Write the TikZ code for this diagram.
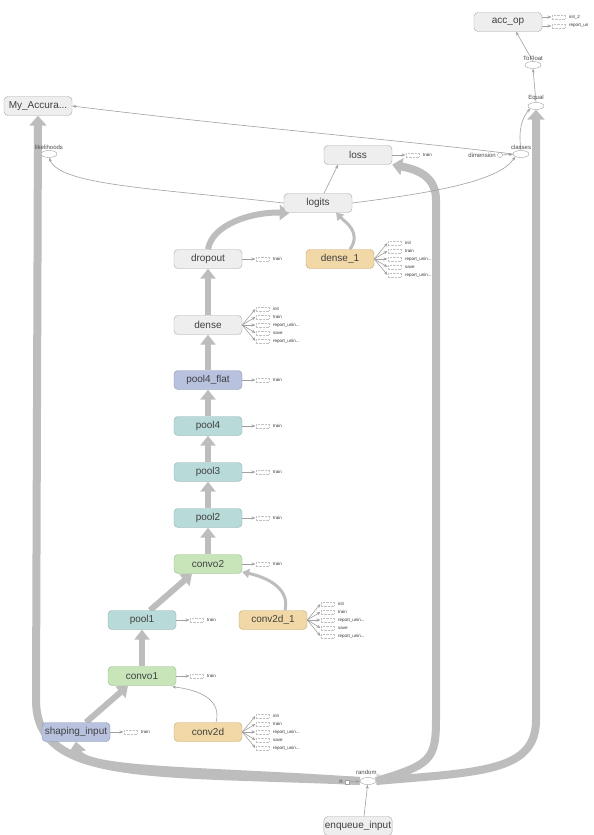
\documentclass[tikz,border=0pt]{standalone}
\usepackage{fontspec}
\setmainfont{Liberation Sans}
\usetikzlibrary{arrows.meta,calc,shapes.geometric,positioning,backgrounds}
\definecolor{opfill}{HTML}{EEEEEE}
\definecolor{opline}{HTML}{A8A8A8}
\definecolor{poolfill}{HTML}{B8DAD8}
\definecolor{poolline}{HTML}{8DB0AE}
\definecolor{convfill}{HTML}{C8E5BA}
\definecolor{convline}{HTML}{98BB88}
\definecolor{densefill}{HTML}{F1D8A6}
\definecolor{denseline}{HTML}{C6A876}
\definecolor{shapefill}{HTML}{B8C2DF}
\definecolor{shapeline}{HTML}{8C97B8}
\definecolor{flow}{HTML}{BDBDBD}
\definecolor{thin}{HTML}{A0A0A0}
\newcommand{\repunin}{report\_unin...}
\begin{document}
\begin{tikzpicture}[x=1pt,y=-1pt,
    op/.style={draw=opline,fill=opfill,rounded corners=4pt,minimum width=68pt,minimum height=19pt,
      inner sep=1pt,font=\fontsize{10}{12}\selectfont,text=black!75},
    pool/.style={op,fill=poolfill,draw=poolline},
    conv/.style={op,fill=convfill,draw=convline},
    densecol/.style={op,fill=densefill,draw=denseline},
    shapecol/.style={op,fill=shapefill,draw=shapeline},
    stub/.style={draw=opline!70,densely dotted,fill=white,minimum width=13pt,minimum height=4.5pt,inner sep=0pt},
    stubtxt/.style={anchor=west,inner sep=0pt,xshift=4pt,font=\fontsize{4.5}{5}\selectfont,text=black!80},
    small/.style={draw=thin,ellipse,minimum width=16pt,minimum height=7pt,inner sep=0pt,fill=white},
    smalltxt/.style={font=\fontsize{6}{7}\selectfont,text=black!70,inner sep=0pt},
    thinarr/.style={draw=thin,line width=0.6pt,-{Stealth[length=4pt,width=3pt]}},
    midarr/.style={draw=flow,line width=3pt,-{Triangle[length=7pt,width=9pt]}},
    fatarr/.style={draw=flow,line width=6pt,-{Triangle[length=10pt,width=15pt]}},
    bigarr/.style={draw=flow,line width=8pt,-{Triangle[length=10pt,width=17pt]}}]
\useasboundingbox (0,0) rectangle (594,835);

% main ops
\node[op] (accop) at (508,22) {acc\_op};
\node[op] (acc) at (38,106) {My\_Accura...};
\node[op] (loss) at (358,155) {loss};
\node[op] (logits) at (318,203) {logits};
\node[op] (dropout) at (208,259) {dropout};
\node[densecol] (denseb) at (340,259) {dense\_1};
\node[op] (dense) at (208,325) {dense};
\node[shapecol] (flat) at (208,380) {pool4\_flat};
\node[pool] (pfour) at (208,426) {pool4};
\node[pool] (pthree) at (208,472) {pool3};
\node[pool] (ptwo) at (208,518) {pool2};
\node[conv] (ctwo) at (208,564) {convo2};
\node[pool] (pone) at (142,620) {pool1};
\node[densecol] (convb) at (273,620) {conv2d\_1};
\node[conv] (cone) at (142,676) {convo1};
\node[shapecol] (shaping) at (76,732) {shaping\_input};
\node[densecol] (conva) at (208,732) {conv2d};
\node[op] (enqueue) at (358,826) {enqueue\_input};

% small ops
\node[small] (tofloat) at (533,65) {};
\node[smalltxt,above=1pt of tofloat] {ToFloat};
\node[small] (equal) at (536,106) {};
\node[smalltxt,above=1pt of equal] {Equal};
\node[small] (like) at (49,154) {};
\node[smalltxt,above=1pt of like] {likelihoods};
\node[small] (classes) at (521,154) {};
\node[smalltxt,above=1pt of classes] {classes};
\node[draw=thin,circle,inner sep=0pt,minimum size=5pt] (dim) at (500,155) {};
\node[smalltxt,anchor=east] at (496,155) {dimension};
\node[small] (random) at (368,781) {};
\node[smalltxt,above=1pt of random] {random\_};
\node[draw=thin,fill=white,inner sep=0pt,minimum size=4pt] (nn) at (347,782) {};
\node[smalltxt,anchor=east] at (343,782) {n};

\begin{scope}[on background layer]
\fill[white] (0,0) rectangle (594,835);
% big flows
\draw[bigarr] (random.west) .. controls (150,772) and (36,782) .. (36,700) -- (acc.south);
\draw[bigarr] (random.west) .. controls (200,770) and (80,772) .. (shaping.south);
\draw[bigarr] (random.east) .. controls (430,765) and (436,760) .. (436,720) -- (436,200)
  .. controls (436,178) and (420,170) .. (loss.south east);
\draw[bigarr] (random.east) .. controls (480,772) and (536,772) .. (536,720) -- (equal.south);

% layer chain
\draw[fatarr] (cone.north) -- (pone.south);
\draw[fatarr] (shaping.north) ++(10,0) -- ($(cone.south)+(-14,0)$);
\draw[fatarr] (pone.north) ++(8,0) -- ($(ctwo.south)+(-16,0)$);
\draw[fatarr] (ctwo.north) -- (ptwo.south);
\draw[fatarr] (ptwo.north) -- (pthree.south);
\draw[fatarr] (pthree.north) -- (pfour.south);
\draw[fatarr] (pfour.north) -- (flat.south);
\draw[fatarr] (flat.north) -- (dense.south);
\draw[fatarr] (dense.north) -- (dropout.south);
\draw[fatarr] (dropout.north) .. controls (212,225) and (250,212) .. ($(logits.south west)+(6,0)$);
\draw[midarr] ($(denseb.north)+(10,0)$) .. controls (362,232) and (345,222) .. ($(logits.south)+(18,0)$);
\draw[midarr] ($(convb.north)+(12,0)$) .. controls (290,590) and (270,578) .. ($(ctwo.east)+(0,8)$);
\draw[thinarr] ($(conva.north)+(8,0)$) .. controls (222,700) and (200,690) .. ($(cone.south east)+(-4,1)$);

% thin edges
\draw[thinarr] (enqueue.north) ++(6,0) -- (random);
\draw[thinarr] ($(logits.north)+(6,0)$) -- ($(loss.south)+(-20,0)$);
\draw[thinarr] (logits.west) .. controls (150,188) and (60,185) .. (like.south);
\draw[thinarr] (logits.east) .. controls (440,192) and (500,180) .. (classes.south west);
\draw[thinarr] (classes.west) .. controls (400,140) and (250,128) .. (acc.east);
\draw[thinarr] (classes.north) .. controls (518,130) and (522,118) .. (equal.south west);
\draw[thinarr] (dim) -- (classes);
\draw[thinarr] (equal.north) -- (tofloat.south);
\draw[thinarr] (tofloat.north) -- ($(accop.south)+(8,0)$);
\draw[thinarr] (nn) -- (random);
\end{scope}

% train stubs
\foreach \n in {loss,dropout,flat,pfour,pthree,ptwo,ctwo,pone,cone,shaping}{
  \node[stub] (\n-tr) at ($(\n.east)+(20,0)$) {};
  \node[stubtxt] at (\n-tr.east) {train};
  \draw[thinarr] (\n.east) -- (\n-tr.west);
}

% variable stubs
\foreach \n in {denseb,dense,convb,conva}{
  \foreach \t/\dy [count=\i] in {init/-16,train/-8,\repunin/0,save/8,\repunin/16}{
    \node[stub] (\n-\i) at ($(\n.east)+(20,\dy)$) {};
    \node[stubtxt] at (\n-\i.east) {\t};
    \draw[thinarr] (\n.east) -- (\n-\i.west);
  }
}
\node[stub] (accop-1) at ($(accop.east)+(16,-5)$) {};
\node[stubtxt] at (accop-1.east) {init\_2};
\node[stub] (accop-2) at ($(accop.east)+(16,4)$) {};
\node[stubtxt] at (accop-2.east) {report\_un};
\draw[thinarr] (accop.east) ++(0,-5) -- (accop-1.west);
\draw[thinarr] (accop.east) ++(0,4) -- (accop-2.west);
\end{tikzpicture}
\end{document}
